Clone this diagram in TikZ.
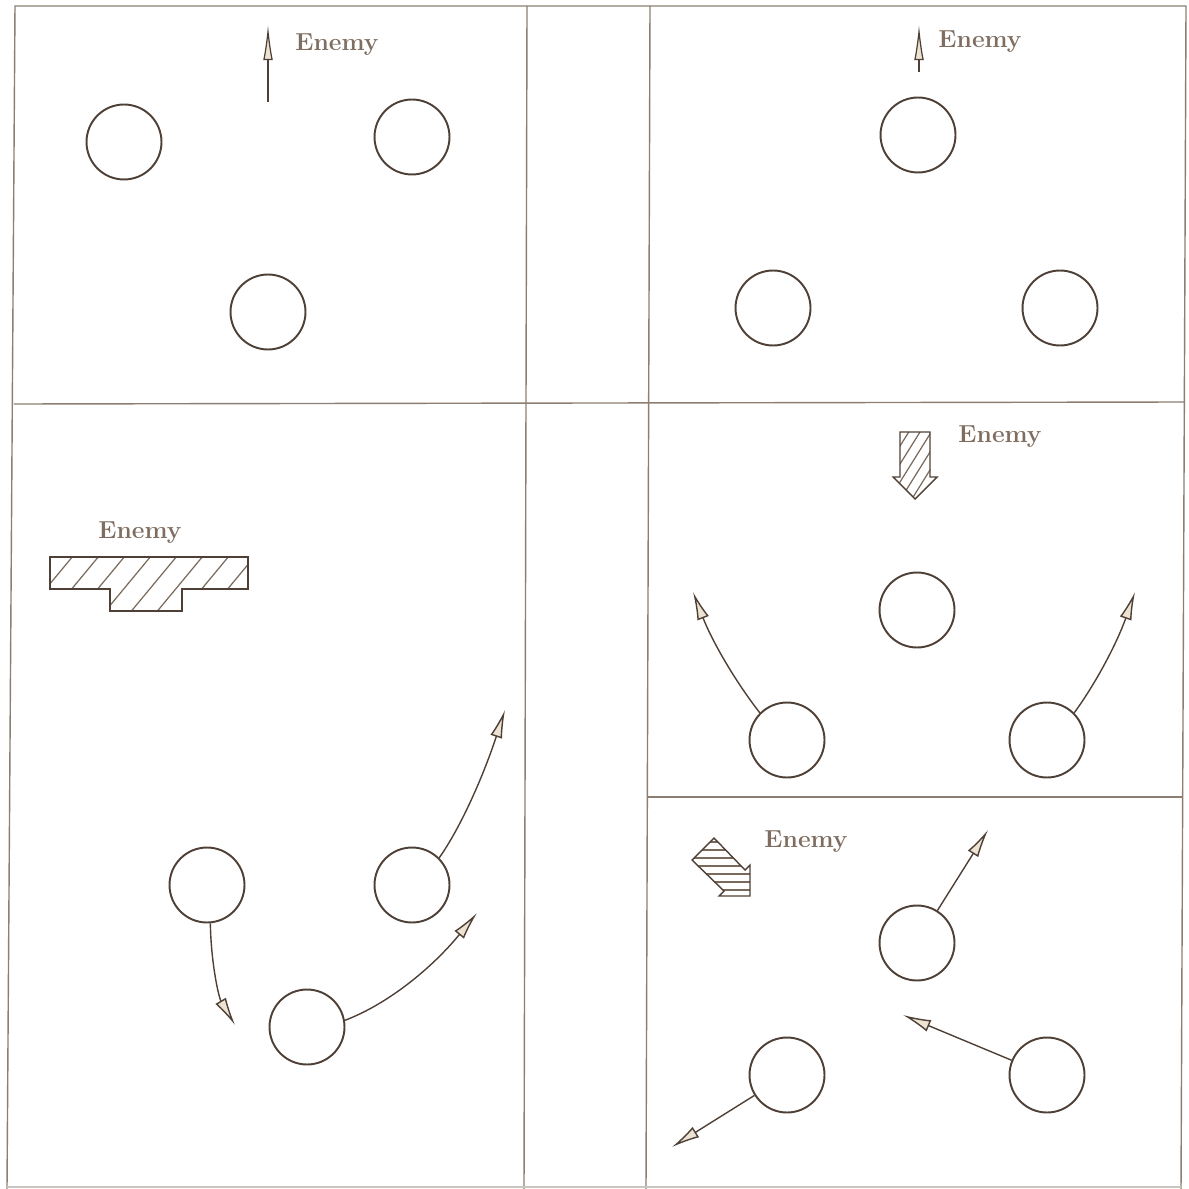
\documentclass[tikz,border=0pt]{standalone}
\usepackage{xcolor}
\usepackage{tikz}
\usetikzlibrary{arrows.meta}
\definecolor{ink}{HTML}{4E4036}
\definecolor{rule}{HTML}{8C7E72}
\definecolor{hatch}{HTML}{7A6A5C}
\definecolor{tip}{HTML}{EDE3D2}
\definecolor{label}{HTML}{7E6D60}
\tikzset{frame/.style={draw=rule,line width=.8pt},troop/.style={circle,draw=ink,line width=1.1pt,minimum size=1.5cm,inner sep=0pt},move/.style={-{Latex[length=16pt,width=7pt,fill=tip]},draw=ink,line width=.8pt},front/.style={-{Latex[length=20pt,width=5.5pt,fill=tip]},draw=ink,line width=.7pt},enemy/.style={font=\fontsize{14}{16}\selectfont\bfseries,text=label,inner sep=1pt},mass/.style={draw=ink,line width=.8pt},hatchline/.style={draw=hatch,line width=.7pt}}

\begin{document}
\begin{tikzpicture}[x=.02cm,y=-.02cm]
\useasboundingbox (0,0) rectangle (1189,1189);
% frame of the five panels
\draw[frame] (7,1189)--(15,6)--(1186,6)--(1181,1189); \draw[frame] (527,6)--(524,1189); \draw[frame] (650,6)--(646,1189);
\draw[frame] (14,404)--(1185,402); \draw[frame] (648,797)--(1183,797); \draw[frame,draw=rule!45] (7,1187)--(1181,1187);
% top left
\begin{scope}
 \node[troop] (a1) at (124,142) {}; \node[troop] (a2) at (412,137) {}; \node[troop] (a3) at (268,312) {};
 \coordinate (a0) at (268,102); \coordinate (aend) at (268,25); \draw[front] (a0)--(aend);
 \node[enemy] (alabel) at (337,45) {Enemy};
\end{scope}
% top right
\begin{scope}
 \node[troop] (b1) at (918,135) {}; \node[troop] (b2) at (773,308) {}; \node[troop] (b3) at (1060,308) {};
 \coordinate (b0) at (919,72); \coordinate (bend) at (919,25); \draw[front] (b0)--(bend);
 \node[enemy] (blabel) at (980,42) {Enemy};
\end{scope}
% bottom left
\begin{scope}
 \begin{scope} \clip (50,557)--(248,557)--(248,589)--(182,589)--(182,611)--(110,611)--(110,589)--(50,589)--cycle;
  \foreach \x in {20,46,...,280}{\draw[hatchline] (\x,620)--({\x+58},550);}
 \end{scope}
 \draw[mass] (50,557)--(248,557)--(248,589)--(182,589)--(182,611)--(110,611)--(110,589)--(50,589)--cycle;
 \node[enemy] (clabel) at (140,533) {Enemy};
 \node[troop] (c1) at (207,885) {}; \node[troop] (c2) at (412,885) {}; \node[troop] (c3) at (307,1027) {};
 \coordinate (cend1) at (235,1025); \coordinate (cend2) at (505,710); \coordinate (cend3) at (477,913);
 \draw[move] (c1.-85) .. controls (211,964) and (219,998) .. (cend1);
 \draw[move] (c2.45) .. controls (459,830) and (482,780) .. (cend2);
 \draw[move] (c3.10) .. controls (388,1004) and (432,968) .. (cend3);
\end{scope}
% middle right
\begin{scope}
 \begin{scope} \clip (900,432)--(930,432)--(930,477)--(937,477)--(915,499)--(893,477)--(900,477)--cycle;
  \foreach \k in {-1,...,5}{\draw[hatchline] (880,{440+18*\k+56})--(950,{440+18*\k-56});}
 \end{scope}
 \draw[mass] (900,432)--(930,432)--(930,477)--(937,477)--(915,499)--(893,477)--(900,477)--cycle;
 \node[enemy] (dlabel) at (1000,437) {Enemy};
 \node[troop] (d1) at (917,610) {}; \node[troop] (d2) at (787,740) {}; \node[troop] (d3) at (1047,740) {};
 \coordinate (dend1) at (693,592); \coordinate (dend2) at (1135,592);
 \draw[move] (d2.135) .. controls (735,681) and (712,641) .. (dend1);
 \draw[move] (d3.45) .. controls (1096,683) and (1117,643) .. (dend2);
\end{scope}
% bottom right
\begin{scope}
 \begin{scope} \clip (714,838)--(745,870)--(750,865)--(750,896)--(719,896)--(724,891)--(692,860)--cycle;
  \foreach \y in {842,850,...,898}{\draw[hatchline] (680,\y)--(760,\y);}
 \end{scope}
 \draw[mass] (714,838)--(745,870)--(750,865)--(750,896)--(719,896)--(724,891)--(692,860)--cycle;
 \node[enemy] (elabel) at (806,842) {Enemy};
 \node[troop] (e1) at (917,943) {}; \node[troop] (e2) at (787,1075) {}; \node[troop] (e3) at (1047,1075) {};
 \coordinate (eend1) at (988,830); \coordinate (eend2) at (672,1147); \coordinate (eend3) at (903,1015);
 \draw[move] (e1)--(eend1); \draw[move] (e2)--(eend2); \draw[move] (e3)--(eend3);
\end{scope}
\end{tikzpicture}
\end{document}
